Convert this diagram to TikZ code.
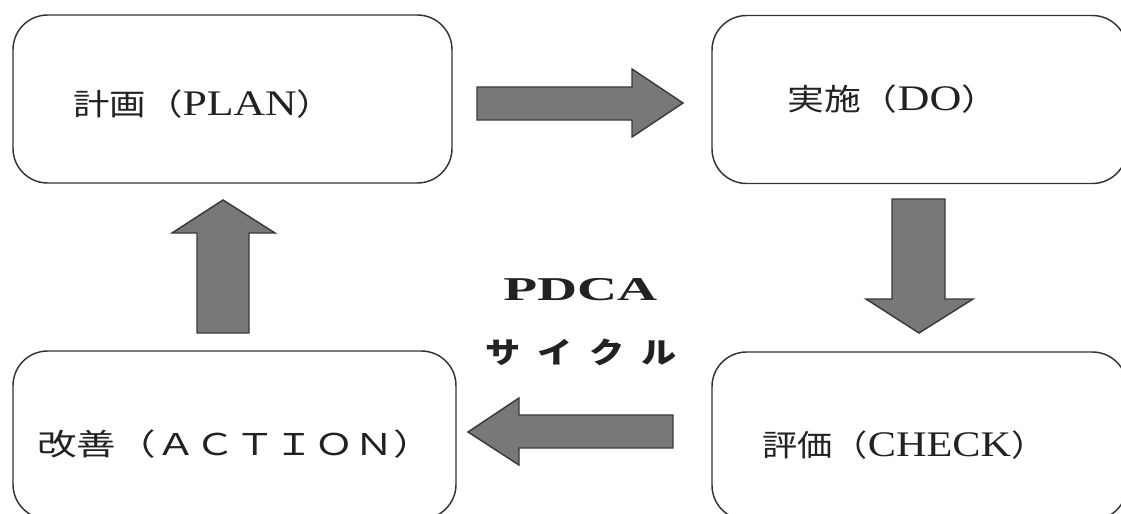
\documentclass[tikz,border=0pt]{standalone}
\usepackage{fontspec}
\usepackage{graphicx}
\setmainfont{Liberation Serif}
\newfontfamily\cjk{Noto Sans CJK JP}
\definecolor{boxline}{HTML}{333333}
\definecolor{arrowfill}{HTML}{787878}
\definecolor{arrowline}{HTML}{3A3A3A}
\definecolor{txt}{HTML}{222222}
\newcommand\latn[1]{{\fontsize{27pt}{30pt}\selectfont #1}}
\begin{document}
\begin{tikzpicture}[x=0.75pt,y=-0.75pt,
  stagebox/.style={draw=boxline, line width=1.1pt, rounded corners=26pt, inner sep=0pt, minimum height=126pt},
  blockarrow/.style={draw=arrowline, line width=1.1pt, fill=arrowfill, line join=miter},
  label/.style={inner sep=0pt, anchor=west, text=txt, font=\fontsize{22.5pt}{26pt}\selectfont}]
\useasboundingbox (0,0) rectangle (1121,514);
\clip (0,0) rectangle (1121,514);
\fill[white] (0,0) rectangle (1121,514);
% boxes
\node[stagebox, minimum width=329.25pt] (plan) at (232.5,99) {};
\node[stagebox, minimum width=311.25pt] (do) at (919.5,99.5) {};
\node[stagebox, minimum width=332.25pt] (action) at (234.5,435) {};
\node[stagebox, minimum width=311.25pt] (check) at (919.5,436) {};
% labels
\node[label] (tplan) at (73,104) {\resizebox{195pt}{\height}{{\cjk 計画（}\latn{PLAN}{\cjk ）}}};
\node[label] (tdo) at (787,99) {\resizebox{158.25pt}{\height}{{\cjk 実施（}\latn{DO}{\cjk ）}}};
\node[label] (taction) at (37,444) {\resizebox{297pt}{\height}{{\cjk 改善（ＡＣＴＩＯＮ）}}};
\node[label] (tcheck) at (762,445) {\resizebox{213pt}{\height}{{\cjk 評価（}\latn{CHECK}{\cjk ）}}};
\node[inner sep=0pt, anchor=base west, text=txt] (tpdca) at (503,300)
  {\resizebox{115.5pt}{\height}{\fontsize{25pt}{28pt}\selectfont\bfseries PDCA}};
\node[inner sep=0pt, anchor=west, text=txt] (tcycle) at (485,352)
  {\scalebox{1.2}[1]{\fontsize{22pt}{24pt}\selectfont\cjk\bfseries サ\kern10.5pt イ\kern10.5pt ク\kern10.5pt ル}};
% block arrows
\draw[blockarrow] (477,87) -- (632,87) -- (632,69) -- (683,103) -- (632,137) -- (632,120) -- (477,120) -- cycle;
\draw[blockarrow] (892,199) -- (945,199) -- (945,299) -- (973,299) -- (919,333) -- (866,299) -- (892,299) -- cycle;
\draw[blockarrow] (673,415) -- (519,415) -- (519,398) -- (468,432) -- (519,465) -- (519,448) -- (673,448) -- cycle;
\draw[blockarrow] (197,333) -- (197,233) -- (172,233) -- (223,200) -- (275,233) -- (249,233) -- (249,333) -- cycle;
\end{tikzpicture}
\end{document}
